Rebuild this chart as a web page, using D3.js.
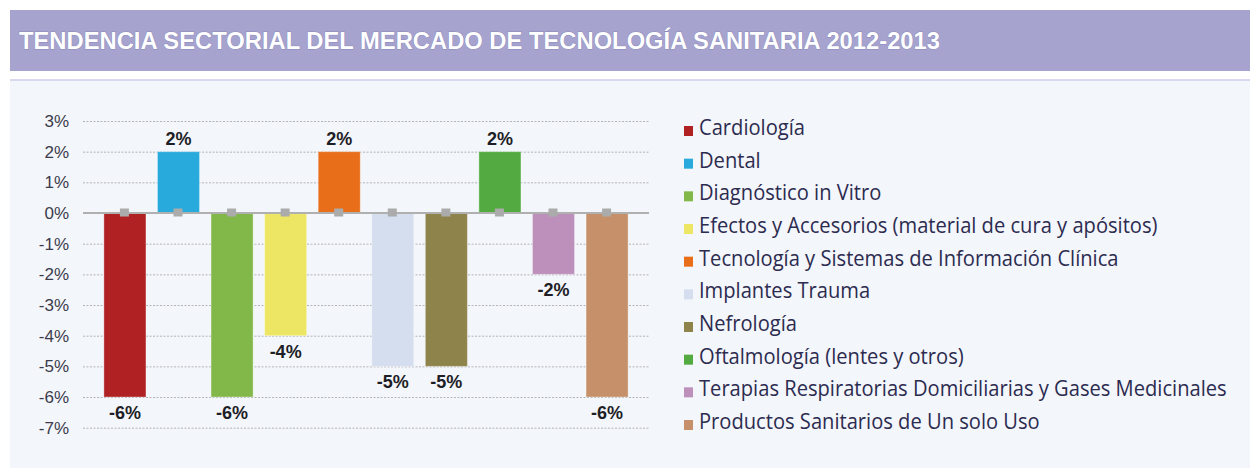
<!DOCTYPE html>
<html>
<head>
<meta charset="utf-8">
<script src="https://cdn.jsdelivr.net/npm/d3@7"></script>
<style>
  body { margin: 0; background: #fff; }
  svg { display: block; }
</style>
</head>
<body>
<div id="chart"></div>
<script>
// data
const titleText = 'TENDENCIA SECTORIAL DEL MERCADO DE TECNOLOGÍA SANITARIA 2012-2013';

const sectors = [
  'Cardiología',
  'Dental',
  'Diagnóstico in Vitro',
  'Efectos y Accesorios (material de cura y apósitos)',
  'Tecnología y Sistemas de Información Clínica',
  'Implantes Trauma',
  'Nefrología',
  'Oftalmología (lentes y otros)',
  'Terapias Respiratorias Domiciliarias y Gases Medicinales',
  'Productos Sanitarios de Un solo Uso'
];
const trend = [-6, 2, -6, -4, 2, -5, -5, 2, -2, -6];
const sectorColors = ['#b02124', '#29aadc', '#82b84a', '#ede664', '#e86e1a',
                      '#d4deef', '#8e834a', '#52aa40', '#bd90bb', '#c6916a'];
const yTicks = [3, 2, 1, 0, -1, -2, -3, -4, -5, -6, -7];

const data = sectors.map((s, i) => ({ name: s, value: trend[i], color: sectorColors[i] }));

const w = 1250, h = 468;
const svg = d3.select('#chart').append('svg')
  .attr('width', w)
  .attr('height', h);

// title band
svg.append('rect')
  .attr('x', 10).attr('y', 10)
  .attr('width', w - 10).attr('height', 61)
  .attr('fill', '#a6a4ce');

svg.append('text')
  .attr('x', 19).attr('y', 48.5)
  .attr('textLength', 921)
  .attr('lengthAdjust', 'spacingAndGlyphs')
  .style('font-family', 'Liberation Sans, Arial, sans-serif')
  .style('font-weight', 'bold')
  .style('font-size', '23.5px')
  .style('fill', '#fff')
  .style('stroke', 'rgba(80,80,150,0.35)')
  .style('stroke-width', 1)
  .style('paint-order', 'stroke')
  .text(titleText);

// panel
svg.append('rect')
  .attr('x', 10).attr('y', 79)
  .attr('width', w - 10).attr('height', h - 79)
  .attr('fill', '#f3f6fa');
svg.append('rect')
  .attr('x', 10).attr('y', 79)
  .attr('width', w - 10).attr('height', 2)
  .attr('fill', '#dad8ee');

// scales
const x = d3.scaleBand()
  .domain(sectors)
  .range([83, 649])
  .paddingInner(0.215)
  .paddingOuter(0.39);

const y = d3.scaleLinear()
  .domain([-7, 3])
  .range([427.7, 121]);

// grid lines
const grid = svg.append('g')
  .attr('class', 'grid')
  .attr('transform', 'translate(83,0)')
  .call(d3.axisLeft(y)
    .tickValues(yTicks.filter(t => t !== 0))
    .tickSize(-(649 - 83))
    .tickFormat(''));
grid.select('.domain').remove();
grid.selectAll('line')
  .attr('stroke', '#b4b4b8')
  .attr('stroke-width', 1)
  .attr('stroke-dasharray', '2,1.5');

// y axis labels
const yAxis = svg.append('g')
  .attr('transform', 'translate(69,0)')
  .call(d3.axisLeft(y)
    .tickValues(yTicks)
    .tickSize(0)
    .tickPadding(0)
    .tickFormat(d => d + '%'));
yAxis.select('.domain').remove();
yAxis.selectAll('text')
  .style('font-family', 'Liberation Sans, Arial, sans-serif')
  .style('font-size', '17px')
  .attr('fill', '#3b3b4c');

// bars
svg.selectAll('.bar')
  .data(data)
  .enter()
  .append('rect')
  .attr('class', 'bar')
  .attr('x', d => x(d.name))
  .attr('width', x.bandwidth())
  .attr('y', d => Math.min(y(0), y(d.value)))
  .attr('height', d => Math.abs(y(d.value) - y(0)))
  .attr('fill', d => d.color)
  .attr('stroke', 'rgba(255,255,255,0.35)')
  .attr('stroke-width', 1);

// zero line
svg.append('line')
  .attr('x1', 83).attr('x2', 649)
  .attr('y1', y(0)).attr('y2', y(0))
  .attr('stroke', '#b0b0b0')
  .attr('stroke-width', 2);

// zero markers
svg.selectAll('.marker')
  .data(data)
  .enter()
  .append('rect')
  .attr('class', 'marker')
  .attr('x', d => x(d.name) + x.bandwidth() / 2 - 5)
  .attr('y', y(0) - 4.5)
  .attr('width', 9)
  .attr('height', 8)
  .attr('fill', '#ababab');

// value labels
svg.selectAll('.value-label')
  .data(data)
  .enter()
  .append('text')
  .attr('class', 'value-label')
  .attr('x', d => x(d.name) + x.bandwidth() / 2)
  .attr('y', d => d.value >= 0 ? y(d.value) - 7 : y(d.value) + 22)
  .attr('text-anchor', 'middle')
  .style('font-family', 'Liberation Sans, Arial, sans-serif')
  .style('font-weight', 'bold')
  .style('font-size', '18px')
  .style('fill', '#1e1e26')
  .text(d => d.value + '%');

// legend
const legendY = d3.scalePoint()
  .domain(sectors)
  .range([135, 429]);

const legend = svg.selectAll('.legend')
  .data(data)
  .enter()
  .append('g')
  .attr('class', 'legend')
  .attr('transform', d => `translate(684,${legendY(d.name)})`);

legend.append('rect')
  .attr('x', 0).attr('y', -9)
  .attr('width', 9).attr('height', 10)
  .attr('fill', d => d.color);

const legendText = legend.append('text')
  .attr('x', 0).attr('y', 0)
  .style('font-family', 'Open Sans, Liberation Sans, sans-serif')
  .style('font-size', '21px')
  .style('fill', '#2c2b50')
  .text(d => d.name);

// squeeze the legend type to the width of the reference's narrow face
const longest = d3.max(legendText.nodes(), n => n.getComputedTextLength());
const sx = 528 / longest;
legendText.attr('transform', `translate(15,0) scale(${sx},1)`);
</script>
</body>
</html>
